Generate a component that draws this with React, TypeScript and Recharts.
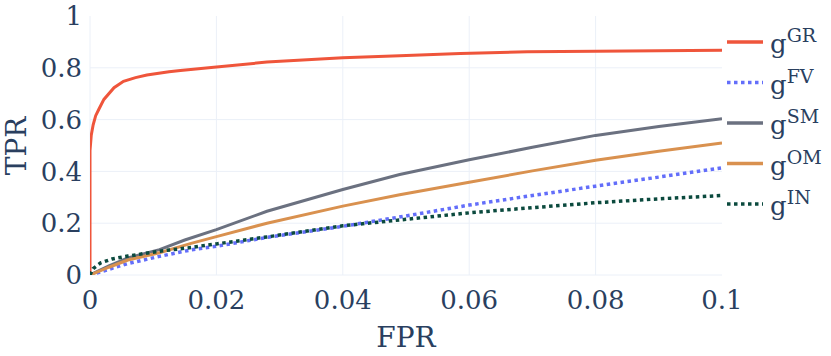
import React from 'react';
import { LineChart, Line, XAxis, YAxis, CartesianGrid, Legend, Customized } from 'recharts';

const X_TICKS = [0, 0.02, 0.04, 0.06, 0.08, 0.1];
const Y_TICKS = [0, 0.2, 0.4, 0.6, 0.8, 1];

const GR_FPR = [0, 0, 0.0002, 0.0005, 0.0009, 0.0014, 0.0022, 0.0038, 0.0053, 0.0072, 0.009, 0.0125, 0.0143, 0.0196, 0.028, 0.04, 0.049, 0.0586, 0.0692, 0.08, 0.1];
const GR_TPR = [0, 0.48, 0.54, 0.58, 0.615, 0.64, 0.678, 0.723, 0.748, 0.762, 0.772, 0.785, 0.79, 0.802, 0.822, 0.839, 0.847, 0.855, 0.862, 0.864, 0.868];

const FV_FPR = [0, 0.003, 0.006, 0.011, 0.016, 0.02, 0.028, 0.04, 0.05, 0.06, 0.07, 0.08, 0.09, 0.1];
const FV_TPR = [0, 0.022, 0.044, 0.072, 0.097, 0.111, 0.145, 0.188, 0.228, 0.27, 0.307, 0.343, 0.378, 0.414];

const SM_FPR = [0, 0.003, 0.006, 0.011, 0.015, 0.02, 0.028, 0.04, 0.049, 0.06, 0.07, 0.08, 0.09, 0.1];
const SM_TPR = [0, 0.035, 0.066, 0.098, 0.135, 0.175, 0.246, 0.33, 0.388, 0.445, 0.493, 0.539, 0.573, 0.603];

const OM_FPR = [0, 0.003, 0.006, 0.011, 0.016, 0.02, 0.028, 0.04, 0.049, 0.06, 0.07, 0.08, 0.09, 0.1];
const OM_TPR = [0, 0.03, 0.058, 0.086, 0.122, 0.148, 0.2, 0.266, 0.31, 0.358, 0.402, 0.443, 0.478, 0.51];

const IN_FPR = [0, 0.0005, 0.0017, 0.0035, 0.006, 0.011, 0.016, 0.0175, 0.02, 0.028, 0.04, 0.05, 0.06, 0.07, 0.08, 0.09, 0.1];
const IN_TPR = [0, 0.025, 0.047, 0.062, 0.073, 0.092, 0.106, 0.112, 0.12, 0.147, 0.19, 0.215, 0.24, 0.26, 0.279, 0.294, 0.307];

const zip = (xs: number[], ys: number[]) => xs.map((x, i) => ({ fpr: x, tpr: ys[i] }));

const SERIES = [
  { key: 'GR', color: '#EF553B', dash: undefined as string | undefined, data: zip(GR_FPR, GR_TPR) },
  { key: 'FV', color: '#636EFA', dash: '3.5 3.5', data: zip(FV_FPR, FV_TPR) },
  { key: 'SM', color: '#6B7180', dash: undefined, data: zip(SM_FPR, SM_TPR) },
  { key: 'OM', color: '#D9914F', dash: undefined, data: zip(OM_FPR, OM_TPR) },
  { key: 'IN', color: '#0B4A3E', dash: '3.5 3.5', data: zip(IN_FPR, IN_TPR) },
];

const FONT = 'DejaVu Serif';
const TEXT = '#2a3f5f';

const LegendBox = () => (
  <svg width={104} height={210} style={{ display: 'block' }}>
    {SERIES.map((s, i) => {
      const cy = 20 + i * 40.5;
      return (
        <g key={s.key}>
          <line x1={0} x2={36} y1={cy} y2={cy} stroke={s.color} strokeWidth={3.5} strokeDasharray={s.dash} />
          <text x={43} y={cy + 11} fill={TEXT} fontFamily={FONT}>
            <tspan fontSize={26}>g</tspan>
            <tspan fontSize={19} dy={-11}>{s.key}</tspan>
          </text>
        </g>
      );
    })}
  </svg>
);

const Titles = () => (
  <g>
    <text x={406} y={347} textAnchor="middle" fill={TEXT} fontFamily={FONT} fontSize={28}>FPR</text>
    <text transform="translate(26,146) rotate(-90)" textAnchor="middle" fill={TEXT} fontFamily={FONT} fontSize={28}>TPR</text>
  </g>
);

export default function App() {
  return (
    <div style={{ position: 'absolute', left: 0, top: 0, width: 831, height: 356, background: '#fff' }}>
      <LineChart width={831} height={356} margin={{ top: 16, right: 109, bottom: 0, left: 0 }}>
        <CartesianGrid stroke="#EBF0F8" strokeWidth={1} horizontalValues={[0, 0.2, 0.4, 0.6, 0.8]} verticalValues={[0, 0.02, 0.04, 0.06, 0.08]} />
        <XAxis
          type="number"
          dataKey="fpr"
          domain={[0, 0.1]}
          ticks={X_TICKS}
          interval={0}
          allowDataOverflow
          axisLine={false}
          tickLine={false}
          tickSize={0}
          tickMargin={16}
          height={81}
          tickFormatter={(v: number) => String(v)}
          tick={{ fill: TEXT, fontSize: 26, fontFamily: FONT }}
        />
        <YAxis
          type="number"
          dataKey="tpr"
          domain={[0, 1]}
          ticks={Y_TICKS}
          interval={0}
          allowDataOverflow
          axisLine={false}
          tickLine={false}
          tickSize={0}
          tickMargin={8}
          width={90}
          tickFormatter={(v: number) => String(v)}
          tick={{ fill: TEXT, fontSize: 26, fontFamily: FONT }}
        />
        {SERIES.map((s) => (
          <Line
            key={s.key}
            name={s.key}
            data={s.data}
            dataKey="tpr"
            type="linear"
            stroke={s.color}
            strokeWidth={s.dash ? 3.5 : 3}
            strokeDasharray={s.dash}
            dot={false}
            activeDot={false}
            isAnimationActive={false}
          />
        ))}
        <Legend
          layout="vertical"
          align="center"
          verticalAlign="middle"
          content={() => <LegendBox />}
          wrapperStyle={{ left: 727, top: 22, width: 104, height: 210 }}
        />
        <Customized component={Titles} />
      </LineChart>
    </div>
  );
}
